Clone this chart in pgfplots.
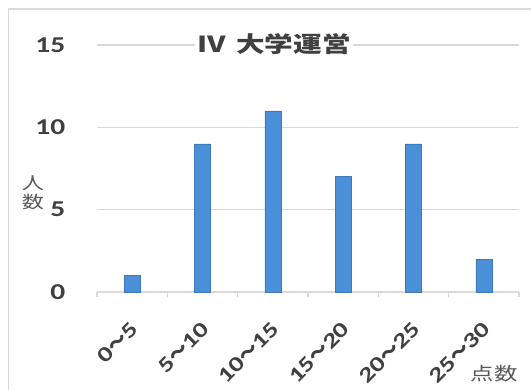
\documentclass[border=0pt]{standalone}
\usepackage{fontspec}
\usepackage{pgfplots}
\pgfplotsset{compat=1.18}
\setmainfont{Carlito}[FakeStretch=1.3]
\newfontfamily\jp{Noto Sans CJK JP}[FakeStretch=1.3]
\newfontfamily\jpn{Noto Sans CJK JP}
\newcommand\tl{{\jpn\fontsize{15}{15}\selectfont ～}}
\definecolor{barblue}{RGB}{74,144,217}
\definecolor{txt}{RGB}{64,64,64}
\definecolor{lbl}{RGB}{89,89,89}
\definecolor{gridc}{RGB}{217,217,217}
\begin{document}
\begin{tikzpicture}
\useasboundingbox (-72.75pt,-72.75pt) rectangle (325.5pt,219pt);
\draw[gridc, line width=1pt] (-66.4pt,-80pt) -- (-66.4pt,212.25pt) -- (340pt,212.25pt);
\begin{axis}[
  at={(0,0)}, anchor=south west,
  scale only axis, width=316.5pt, height=185.25pt,
  xmin=-0.5, xmax=5.5, ymin=0, ymax=15,
  axis line style={draw=none},
  ybar, bar width=12pt,
  ymajorgrids, major grid style={gridc, line width=0.8pt},
  ytick={0,5,10,15}, yticklabels={0,5,10,15},
  ytick style={draw=none},
  yticklabel style={font=\bfseries\fontsize{17}{17}\selectfont, text=txt, anchor=east, xshift=-16pt},
  xtick={0,1,2,3,4,5},
  xticklabels={0\tl5,5\tl10,10\tl15,15\tl20,20\tl25,25\tl30},
  major x tick style={draw=none},
  minor xtick={-0.5,0.5,1.5,2.5,3.5,4.5,5.5},
  minor x tick style={gridc, line width=0.8pt},
  minor tick length=4pt,
  tick align=outside, xtick pos=bottom, ytick pos=left,
  xticklabel style={font=\bfseries\fontsize{16}{16}\selectfont, text=txt, xshift=3pt, rotate=45, anchor=east, inner sep=1pt},
  xticklabel shift=20pt,
  title={{\jp\bfseries Ⅳ\hspace{0.45em}大学運営}},
  title style={at={(0.42,0.972)}, anchor=center, fill=white, inner sep=2pt, font=\fontsize{16.5}{16.5}\selectfont, text=txt},
  clip=false,
]
\addplot[fill=barblue, draw=barblue!85!black] coordinates {(0,1) (1,9) (2,11) (3,7) (4,9) (5,2)};
\node[font=\jp\fontsize{12.75}{14.25}\selectfont, text=lbl, align=center] at (rel axis cs:-0.152,0.40) {人\\数};
\node[font=\jp\fontsize{13.5}{13.5}\selectfont, text=lbl] at (rel axis cs:0.941,-0.332) {点数};
\end{axis}
\end{tikzpicture}
\end{document}
